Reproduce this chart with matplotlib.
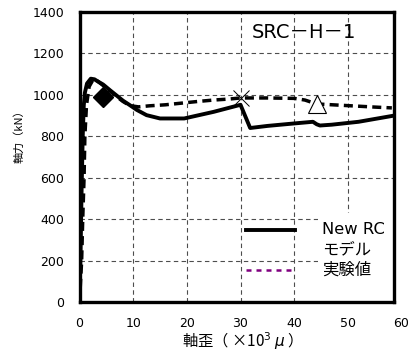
import matplotlib
matplotlib.use("Agg")
import matplotlib.pyplot as plt
from matplotlib.patches import Rectangle
from matplotlib.lines import Line2D
import matplotlib.transforms as mtransforms

plt.rcParams['font.family'] = ['DejaVu Sans', 'Noto Sans CJK JP']
CJK_FIRST = ['Noto Sans CJK JP', 'DejaVu Sans']

# Data
model_x = [0, 0.2, 0.4, 0.6, 0.8, 1.0, 1.4, 2.1, 2.8, 3.4, 4.4, 5.7, 7.0, 8.1, 9.4,
           10.7, 12.5, 15, 19.5, 25, 30, 31.8, 35, 40, 43.5, 44.2, 44.8, 47, 52, 58.2]
model_y = [0, 250, 550, 800, 950, 1010, 1055, 1078, 1075, 1065, 1050, 1022, 995, 972, 950,
           927, 902, 886, 886, 918, 952, 840, 850, 862, 870, 858, 852, 856, 870, 898]

exp_x = [0, 0.4, 0.6, 0.85, 1.0, 1.3, 1.8, 2.5, 3.3, 4.4, 5.7, 7.0, 8.1, 9.4, 11, 13,
         16, 19, 22, 25, 28, 30, 35, 40, 42, 43.5, 45, 50, 55, 58.2]
exp_y = [0, 200, 400, 600, 800, 950, 1040, 1072, 1068, 1045, 1018, 990, 968, 948, 942, 947,
         952, 960, 968, 975, 980, 985, 985, 983, 975, 962, 955, 948, 941, 937]

diamond_pt = (4.4, 990)
cross_pt = (30, 985)
triangle_pt = (44.2, 957)

xticks = [0, 10, 20, 30, 40, 50]
extra_xtick = 60
yticks = [0, 200, 400, 600, 800, 1000, 1200, 1400]

title = "SRC－H－1"
legend_lines = ["New RC", "モデル", "実験値"]

fig = plt.figure(figsize=(4.19, 3.51), dpi=100)
ax = fig.add_axes([79.5/419, 1-302/351, (394-79.5)/419, (302-12)/351])

ax.set_xlim(0, 58.6)
ax.set_ylim(0, 1400)
ax.set_xticks(xticks)
ax.set_yticks(yticks)
ax.tick_params(length=0, labelsize=9, pad=11)
ax.tick_params(axis='x', pad=11)

ax.set_axisbelow(True)
ax.grid(True, color='0.3', linestyle=(0, (4, 3)), linewidth=0.8)
for sp in ax.spines.values():
    sp.set_linewidth(2.4)
    sp.set_color('black')

def ax_x(px):
    return (px - 79.5) / (394 - 79.5)

def ax_y(py):
    return (302 - py) / 290

# white area behind legend text (hides grid)
ax.add_patch(Rectangle((ax_x(318), 0), ax_x(394) - ax_x(318), ax_y(213),
                       transform=ax.transAxes, facecolor='white', edgecolor='none', zorder=1))

ax.plot(model_x, model_y, color='black', linewidth=2.8, zorder=3, solid_joinstyle='round')
ax.plot(exp_x, exp_y, color='black', linewidth=2.5, linestyle=(0, (2.6, 1.5)), zorder=3)

ax.plot(*diamond_pt, marker='D', markersize=10, color='black', zorder=4)
ax.plot(*cross_pt, marker='x', markersize=11, color='black', markeredgewidth=0.7, zorder=4)
ax.plot(*triangle_pt, marker='^', markersize=13, markerfacecolor='white',
        markeredgecolor='black', markeredgewidth=0.8, zorder=4)

ax.text(ax_x(252), ax_y(32), title, transform=ax.transAxes, fontsize=14,
        ha='left', va='center')

# legend (manual)
ax.add_line(Line2D([ax_x(246), ax_x(295)], [ax_y(230), ax_y(230)], transform=ax.transAxes,
                   color='black', linewidth=2.8, zorder=5))
ax.add_line(Line2D([ax_x(246), ax_x(295)], [ax_y(270), ax_y(270)], transform=ax.transAxes,
                   color='#800080', linewidth=1.8, linestyle=(0, (2.0, 2.0)), zorder=5))
for txt, py in zip(legend_lines, [229, 250, 270]):
    ax.text(ax_x(322), ax_y(py), txt, transform=ax.transAxes, fontsize=11.8,
            ha='left', va='center', zorder=6)

# extra "60" tick label outside the frame
trans = mtransforms.offset_copy(ax.get_xaxis_transform(), fig=fig, y=-11, units='points')
ax.text(extra_xtick, 0, str(extra_xtick), transform=trans, fontsize=9, ha='center', va='top',
        clip_on=False)

fig.text(238/419, 1-341/351, "軸歪（ ×10$^3$ $\\mu$ ）", fontsize=11, ha='center',
         va='center', family=CJK_FIRST)
fig.text(19/419, 1-134/351, "軸力（kN）", fontsize=8, ha='center', va='center',
         rotation=90, family=CJK_FIRST)

fig.savefig("out.png", dpi=100)
